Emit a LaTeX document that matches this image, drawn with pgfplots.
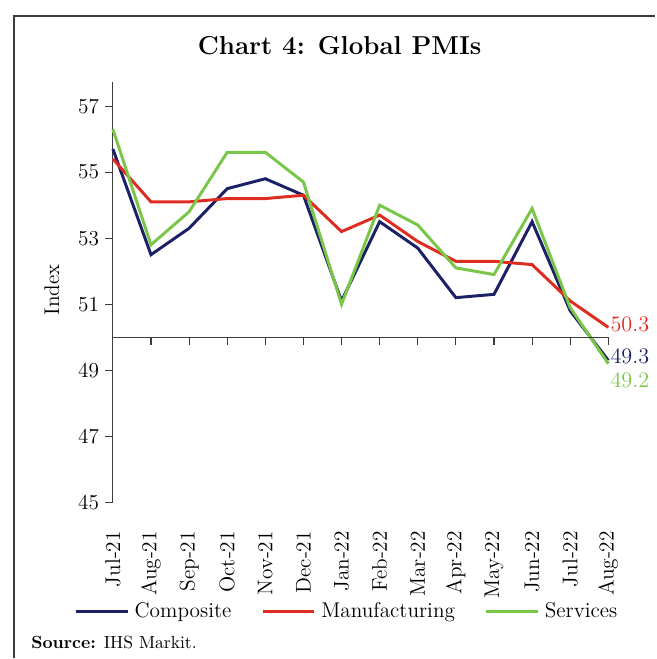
\documentclass[border=0pt]{standalone}
\usepackage{pgfplots}
\pgfplotsset{compat=1.18}
\definecolor{comp}{RGB}{28,33,102}
\definecolor{manu}{RGB}{222,45,32}
\definecolor{serv}{RGB}{122,198,72}
\definecolor{axgray}{RGB}{60,60,60}
\begin{document}
\begin{tikzpicture}
\begin{axis}[
  at={(0,0)}, anchor=south west,
  scale only axis, width=267.84pt, height=227.3pt,
  xmin=0, xmax=13, ymin=45, ymax=57.73,
  clip=false,
  axis y line=left, axis x line=bottom,
  axis line style={-},
  x axis line style={draw=none},
  y axis line style={axgray, line width=0.6pt},
  xtick={0,...,13},
  xticklabels={Jul-21,Aug-21,Sep-21,Oct-21,Nov-21,Dec-21,Jan-22,Feb-22,Mar-22,Apr-22,May-22,Jun-22,Jul-22,Aug-22},
  xtick style={draw=none},
  xticklabel style={rotate=90, anchor=east, font=\fontsize{11.5}{13}\selectfont},
  xticklabel shift=8pt,
  ytick={45,47,...,57},
  ytick style={axgray, line width=0.6pt},
  yticklabel style={font=\fontsize{11.5}{13}\selectfont},
  tick align=outside,
  major tick length=4pt,
  /pgf/number format/assume math mode=true,
  legend columns=3,
  legend style={at={(0.474,-0.260)}, anchor=center, draw=none, fill=none,
    font=\fontsize{11.5}{13}\selectfont,
    /tikz/every even column/.append style={column sep=14pt}},
  legend image code/.code={\draw[#1] (0pt,0pt) -- (28pt,0pt);},
  legend cell align=left,
]
\addplot[comp, line width=1.6pt] coordinates {
(0,55.7) (1,52.5) (2,53.3) (3,54.5) (4,54.8) (5,54.3) (6,51.1) (7,53.5) (8,52.7) (9,51.2) (10,51.3) (11,53.5) (12,50.8) (13,49.3)};
\addlegendentry{\hspace{1pt}Composite}
\addplot[manu, line width=1.6pt] coordinates {
(0,55.4) (1,54.1) (2,54.1) (3,54.2) (4,54.2) (5,54.3) (6,53.2) (7,53.7) (8,52.9) (9,52.3) (10,52.3) (11,52.2) (12,51.1) (13,50.3)};
\addlegendentry{\hspace{1pt}Manufacturing}
\addplot[serv, line width=1.6pt] coordinates {
(0,56.3) (1,52.8) (2,53.8) (3,55.6) (4,55.6) (5,54.7) (6,51.0) (7,54.0) (8,53.4) (9,52.1) (10,51.9) (11,53.9) (12,50.9) (13,49.2)};
\addlegendentry{\hspace{1pt}Services}
\draw[axgray, line width=0.6pt] (axis cs:0,50) -- (axis cs:13,50);
\pgfplotsinvokeforeach{0,...,13}{\draw[axgray, line width=0.6pt] (axis cs:#1,50) -- ([yshift=-4pt]axis cs:#1,50);}
\node[anchor=west, text=manu, font=\fontsize{12}{13}\selectfont, inner sep=1pt] at (axis cs:13,50.38) {50.3};
\node[anchor=west, text=comp, font=\fontsize{12}{13}\selectfont, inner sep=1pt] at (axis cs:13,49.42) {49.3};
\node[anchor=west, text=serv, font=\fontsize{12}{13}\selectfont, inner sep=1pt] at (axis cs:13,48.69) {49.2};
\end{axis}
\begin{scope}[x=0.54pt, y=-0.54pt, shift={(-113,-503)}]
  \path (0,0) rectangle (656,659);
  \draw[axgray, line width=0.8pt] (14,659) -- (14,16) -- (656,16);
  \node[font=\fontsize{14}{16}\selectfont\bfseries] at (340,46) {Chart 4: Global PMIs};
  \node[rotate=90, font=\fontsize{11.5}{13}\selectfont] at (52,290) {Index};
  \node[anchor=west, font=\fontsize{9.5}{11}\selectfont, inner sep=0pt] at (31,643) {\textbf{Source:} IHS Markit.};
\end{scope}
\end{tikzpicture}
\end{document}
